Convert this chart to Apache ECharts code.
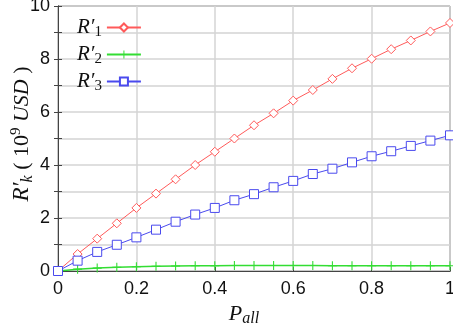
<!DOCTYPE html>
<html><head><meta charset="utf-8">
<script src="https://cdn.jsdelivr.net/npm/echarts@6/dist/echarts.min.js"></script>
<style>html,body{margin:0;padding:0;background:#fff}#c{width:453px;height:326px}</style>
</head><body><div id="c"></div>
<script>
const pAll = [0,0.05,0.1,0.15,0.2,0.25,0.3,0.35,0.4,0.45,0.5,0.55,0.6,0.65,0.7,0.75,0.8,0.85,0.9,0.95,1];
const r1 = [0,0.64,1.22,1.8,2.38,2.92,3.46,4.0,4.5,5.0,5.5,5.95,6.43,6.83,7.25,7.65,8.01,8.37,8.7,9.04,9.36];
const r2 = [0,0.07,0.11,0.14,0.16,0.18,0.19,0.2,0.2,0.21,0.21,0.21,0.21,0.21,0.2,0.2,0.2,0.2,0.2,0.2,0.2];
const r3 = [0,0.39,0.72,0.99,1.27,1.56,1.86,2.13,2.38,2.67,2.9,3.16,3.4,3.66,3.86,4.1,4.33,4.52,4.72,4.92,5.12];
const names = ['R1','R2','R3'];
const subs = {R1:'1',R2:'2',R3:'3'};
const plus = 'path://M4.4,0H5.6V4.4H10V5.6H5.6V10H4.4V5.6H0V4.4H4.4Z';
const chart = echarts.init(document.getElementById('c'));
const mk = a => pAll.map((x,i)=>[x,a[i]]);
const serif = 'Liberation Serif';
const grid = '#d4d4d4';
chart.setOption({
  animation:false,
  grid:{left:58,right:3,top:6,bottom:55,show:true,borderColor:'#555',borderWidth:1,outerBoundsMode:'none',containLabel:false},
  graphic:[{
    type:'text', x:22, y:134, rotation:Math.PI/2,
    style:{
      text:'{a|R′}{b|k}{c| ( 10}{d|9}{e| USD}{c| )}',
      align:'center', verticalAlign:'middle',
      rich:{
        a:{fontFamily:serif,fontStyle:'italic',fontSize:23,fill:'#111'},
        b:{fontFamily:serif,fontStyle:'italic',fontSize:16,fill:'#111',padding:[12,0,0,0]},
        c:{fontFamily:serif,fontSize:22,fill:'#111'},
        d:{fontFamily:serif,fontSize:15,fill:'#111',padding:[0,0,12,0]},
        e:{fontFamily:serif,fontStyle:'italic',fontSize:22,fill:'#111'}
      }
    }
  }],
  legend:{
    left:72, top:12, orient:'vertical', align:'right', itemGap:4,
    itemWidth:34, itemHeight:10,
    data:names,
    formatter: n => '{a|R′}{b|' + subs[n] + '}',
    textStyle:{rich:{
      a:{fontFamily:serif,fontStyle:'italic',fontSize:21,color:'#111'},
      b:{fontFamily:serif,fontSize:15,color:'#111',padding:[10,0,0,0]}
    }}
  },
  xAxis:[{
    type:'value',min:0,max:1,interval:0.2,
    name:'{a|P}{b|all}',nameLocation:'middle',nameGap:30,
    nameTextStyle:{padding:[0,20,0,0],rich:{
      a:{fontFamily:serif,fontStyle:'italic',fontSize:22,color:'#111'},
      b:{fontFamily:serif,fontStyle:'italic',fontSize:16,color:'#111',padding:[10,0,0,0]}
    }},
    axisLine:{lineStyle:{color:'#444'}},
    axisTick:{inside:true,length:4,lineStyle:{color:'#444'}},
    axisLabel:{fontFamily:'Liberation Sans',fontSize:18,color:'#111',margin:9,
      formatter:v=>String(+v.toFixed(1))},
    splitLine:{lineStyle:{color:grid,width:1.5}}
  },{
    type:'value',min:0,max:1,interval:0.2,position:'top',
    axisLine:{show:true,lineStyle:{color:'#444'}},axisTick:{show:false},axisLabel:{show:false},splitLine:{show:false}
  }],
  yAxis:[{
    type:'value',min:0,max:10,interval:2,
    axisLine:{show:true,lineStyle:{color:'#444'}},
    axisTick:{inside:true,length:4,lineStyle:{color:'#444'}},
    minorTick:{show:true,splitNumber:2,length:4,lineStyle:{color:'#444'}},
    minorSplitLine:{show:true,lineStyle:{color:grid,width:1.5}},
    axisLabel:{fontFamily:'Liberation Sans',fontSize:18,color:'#111',margin:8},
    splitLine:{lineStyle:{color:grid,width:1.5}}
  },{
    type:'value',min:0,max:10,interval:2,position:'right',
    axisLine:{show:true,lineStyle:{color:'#444'}},
    axisTick:{show:true,inside:true,length:4,lineStyle:{color:'#444'}},
    minorTick:{show:true,splitNumber:2,length:4,lineStyle:{color:'#444'}},
    axisLabel:{show:false},splitLine:{show:false}
  }],
  series:[
    {name:'R1',type:'line',data:mk(r1),symbol:'diamond',symbolSize:9,showAllSymbol:true,
      lineStyle:{color:'#ff5a5a',width:1},itemStyle:{color:'#fff',borderColor:'#ff5a5a',borderWidth:1},color:'#ff5a5a'},
    {name:'R2',type:'line',data:mk(r2),symbol:plus,symbolSize:9,showAllSymbol:true,
      lineStyle:{color:'#33dd33',width:1.5},itemStyle:{color:'#33dd33',borderWidth:0},color:'#33dd33'},
    {name:'R3',type:'line',data:mk(r3),symbol:'rect',symbolSize:9,showAllSymbol:true,
      lineStyle:{color:'#4a4aee',width:1},itemStyle:{color:'#fff',borderColor:'#4a4aee',borderWidth:1},color:'#4a4aee'}
  ]
});
</script></body></html>
